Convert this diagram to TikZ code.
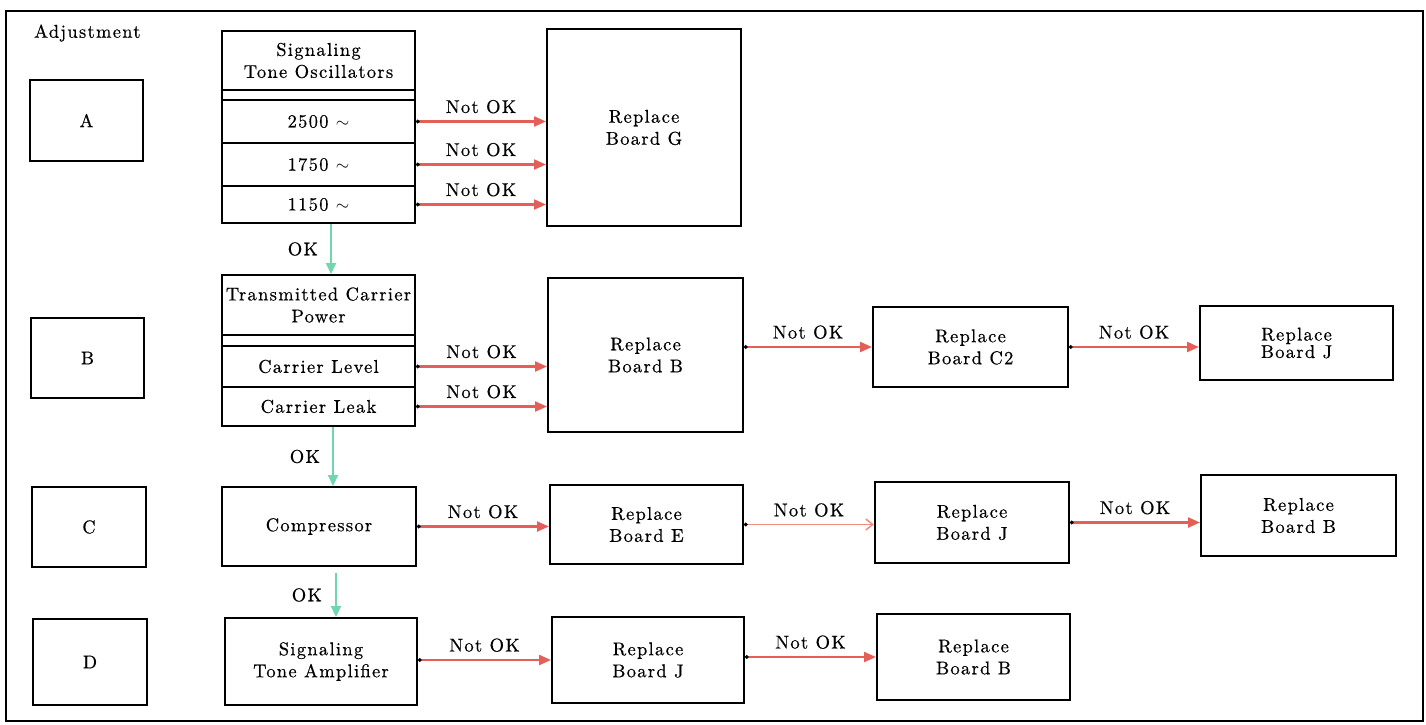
\documentclass[tikz,border=0pt]{standalone}
\usepackage{fontspec}
\setmainfont{lmroman10-regular.otf}[LetterSpace=7,FakeBold=0.5]
\usetikzlibrary{arrows.meta,calc}
\definecolor{redarr}{HTML}{E45F58}
\definecolor{redlight}{HTML}{EE8C84}
\definecolor{greenarr}{HTML}{6FD6AE}
\tikzset{
  box/.style={draw, line width=2pt, inner sep=0pt, align=center,
    font=\fontsize{18.5}{22}\selectfont},
  tightbox/.style={box, font=\fontsize{18.5}{16}\selectfont},
  lbl/.style={font=\fontsize{18.5}{22}\selectfont, inner sep=0pt},
  notok/.style={draw=redarr, line width=2.2pt,
    arrows={Circle[length=3.5pt,width=3.5pt,color=black]-Triangle[length=12pt,width=10pt]}},
  notokopen/.style={draw=redlight, line width=1.5pt,
    arrows={Circle[length=3.5pt,width=3.5pt,color=black]-Straight Barb[length=7pt,width=11pt]}},
  okarrow/.style={draw=greenarr, line width=2.2pt, -{Triangle[length=11pt,width=10pt]}},
}
\begin{document}
\begin{tikzpicture}[x=1pt,y=-1pt]
\useasboundingbox (0,0) rectangle (1426,725);
\draw[line width=2.2pt] (6,11) rectangle (1423,721);

\node[lbl, anchor=west] (adj) at (34,33) {Adjustment};

% adjustment boxes
\node[box, minimum width=113pt, minimum height=81pt] (A) at (86.5,120.5) {A};
\node[box, minimum width=113pt, minimum height=80pt] (B) at (87.5,358) {B};
\node[box, minimum width=114pt, minimum height=80pt] (C) at (89,527) {C};
\node[box, minimum width=114pt, minimum height=86pt] (D) at (90,662) {D};

% signaling tone oscillators
\node[box, minimum width=193pt, minimum height=59pt] (oschead) at (318.5,60.5) {Signaling\\Tone Oscillators};
\node[box, minimum width=193pt, minimum height=10pt] (oscgap) at (318.5,95) {};
\node[box, minimum width=193pt, minimum height=43pt] (r2500) at (318.5,121.5) {2500 $\sim$};
\node[box, minimum width=193pt, minimum height=43pt] (r1750) at (318.5,164.5) {1750 $\sim$};
\node[box, minimum width=193pt, minimum height=37pt] (r1150) at (318.5,204.5) {1150 $\sim$};
\node[box, minimum width=194pt, minimum height=197pt] (G) at (644,127.5) {Replace\\Board G};

% transmitted carrier power
\node[box, minimum width=193pt, minimum height=60pt] (thead) at (318.5,305) {Transmitted Carrier\\Power};
\node[box, minimum width=193pt, minimum height=11pt] (tgap) at (318.5,340.5) {};
\node[box, minimum width=193pt, minimum height=41pt] (level) at (318.5,366.5) {Carrier Level};
\node[box, minimum width=193pt, minimum height=39pt] (leak) at (318.5,406.5) {Carrier Leak};
\node[box, minimum width=195pt, minimum height=154pt] (RB1) at (645.5,355) {Replace\\Board B};
\node[box, minimum width=195pt, minimum height=80pt] (RC2) at (970.5,347) {Replace\\Board C2};
\node[tightbox, minimum width=193pt, minimum height=74pt] (RJ1) at (1296.5,343) {Replace\\Board J};

% compressor
\node[box, minimum width=194pt, minimum height=79pt] (comp) at (319,526.5) {Compressor};
\node[box, minimum width=193pt, minimum height=79pt] (RE) at (646.5,524.5) {Replace\\Board E};
\node[box, minimum width=194pt, minimum height=81pt] (RJ2) at (972,522.5) {Replace\\Board J};
\node[box, minimum width=195pt, minimum height=81pt] (RB2) at (1298.5,515.5) {Replace\\Board B};

% signaling tone amplifier
\node[box, minimum width=192pt, minimum height=87pt] (amp) at (321,661.5) {Signaling\\Tone Amplifier};
\node[box, minimum width=192pt, minimum height=86pt] (RJ3) at (648,660) {Replace\\Board J};
\node[box, minimum width=193pt, minimum height=86pt] (RB3) at (973.5,657) {Replace\\Board B};

% Not OK connectors
\draw[notok] (r2500.east) -- (r2500.east -| G.west) node[midway, above=7pt, lbl] {Not OK};
\draw[notok] (r1750.east) -- (r1750.east -| G.west) node[midway, above=7pt, lbl] {Not OK};
\draw[notok] (r1150.east) -- (r1150.east -| G.west) node[midway, above=7pt, lbl] {Not OK};
\draw[notok] (level.east) -- (level.east -| RB1.west) node[midway, above=7pt, lbl] {Not OK};
\draw[notok] (leak.east) -- (leak.east -| RB1.west) node[midway, above=7pt, lbl] {Not OK};
\draw[notok] (RC2.west -| RB1.east) -- (RC2.west) node[midway, above=7pt, lbl] {Not OK};
\draw[notok] (RC2.east) -- (RC2.east -| RJ1.west) node[midway, above=7pt, lbl] {Not OK};
\draw[notok] (comp.east) -- (comp.east -| RE.west) node[midway, above=7pt, lbl] {Not OK};
\draw[notokopen] (RE.east) -- (RE.east -| RJ2.west) node[midway, above=7pt, lbl] {Not OK};
\draw[notok] (RJ2.east) -- (RJ2.east -| RB2.west) node[midway, above=7pt, lbl] {Not OK};
\draw[notok] (RJ3.west -| amp.east) -- (RJ3.west) node[midway, above=7pt, lbl] {Not OK};
\draw[notok] (RB3.west -| RJ3.east) -- (RB3.west) node[midway, above=7pt, lbl] {Not OK};

% OK connectors
\draw[okarrow] ([xshift=12.5pt]r1150.south) -- ([xshift=12.5pt]r1150.south |- thead.north)
  node[midway, left=12pt, lbl] {OK};
\draw[okarrow] ([xshift=14.5pt]leak.south) -- ([xshift=14.5pt]leak.south |- comp.north)
  node[midway, left=12pt, lbl] {OK};
\draw[okarrow] ([xshift=17pt, yshift=-6pt]comp.south) -- ([xshift=17pt]comp.south |- amp.north)
  node[midway, left=13pt, lbl] {OK};
\end{tikzpicture}
\end{document}
